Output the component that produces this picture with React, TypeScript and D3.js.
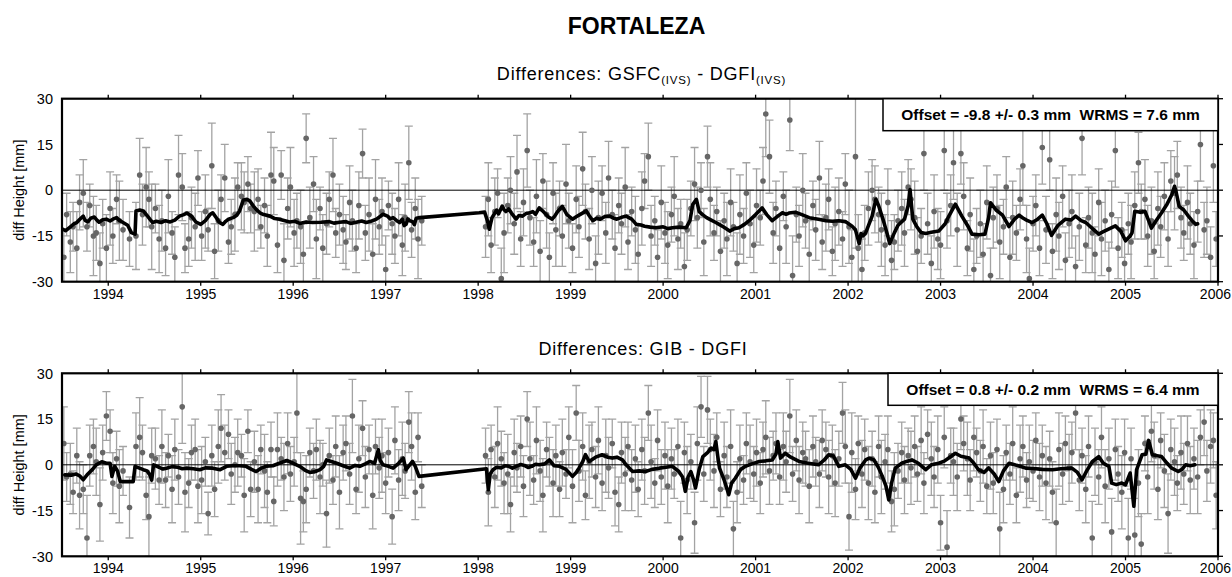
import React from "react";
import * as d3 from "d3";

// ---------- data ----------
const YEARS = [1994, 1995, 1996, 1997, 1998, 1999, 2000, 2001, 2002, 2003, 2004, 2005, 2006];
const Y_TICKS = [30, 15, 0, -15, -30];

const EPOCHS_A = [
  1993.52, 1993.55, 1993.59, 1993.62, 1993.66, 1993.69, 1993.73, 1993.77, 1993.80, 1993.84, 1993.87, 1993.91,
  1993.94, 1993.98, 1994.02, 1994.05, 1994.09, 1994.12, 1994.16, 1994.23, 1994.30, 1994.34, 1994.37, 1994.41,
  1994.44, 1994.47, 1994.51, 1994.55, 1994.58, 1994.62, 1994.65, 1994.69, 1994.72, 1994.76, 1994.80, 1994.83,
  1994.87, 1994.90, 1994.94, 1994.97, 1995.01, 1995.05, 1995.08, 1995.12, 1995.15, 1995.19, 1995.22, 1995.26,
  1995.30, 1995.33, 1995.37, 1995.40, 1995.44, 1995.47, 1995.51, 1995.54, 1995.58, 1995.62, 1995.65, 1995.69,
  1995.72, 1995.76, 1995.79, 1995.83, 1995.87, 1995.90, 1995.94, 1995.97, 1996.01, 1996.04, 1996.08, 1996.11,
  1996.14, 1996.18, 1996.22, 1996.25, 1996.29, 1996.32, 1996.36, 1996.39, 1996.43, 1996.46, 1996.50, 1996.54,
  1996.57, 1996.61, 1996.64, 1996.68, 1996.71, 1996.75, 1996.78, 1996.82, 1996.86, 1996.89, 1996.93, 1996.96,
  1997.00, 1997.03, 1997.07, 1997.10, 1997.14, 1997.18, 1997.21, 1997.25, 1997.28, 1997.32, 1997.35, 1997.39,
];

const EPOCHS_B = [
  1998.08, 1998.11, 1998.14, 1998.18, 1998.21, 1998.25, 1998.28, 1998.32, 1998.35, 1998.39, 1998.42, 1998.46,
  1998.49, 1998.53, 1998.56, 1998.60, 1998.63, 1998.67, 1998.70, 1998.74, 1998.77, 1998.81, 1998.84, 1998.88,
  1998.91, 1998.95, 1998.98, 1999.02, 1999.06, 1999.09, 1999.13, 1999.16, 1999.20, 1999.23, 1999.27, 1999.30,
  1999.34, 1999.38, 1999.41, 1999.45, 1999.48, 1999.52, 1999.55, 1999.59, 1999.62, 1999.66, 1999.70, 1999.73,
  1999.77, 1999.80, 1999.84, 1999.87, 1999.91, 1999.94, 1999.98, 2000.02, 2000.05, 2000.09, 2000.12, 2000.16,
  2000.19, 2000.23, 2000.26, 2000.30, 2000.34, 2000.37, 2000.41, 2000.44, 2000.48, 2000.51, 2000.55, 2000.58,
  2000.62, 2000.66, 2000.69, 2000.73, 2000.76, 2000.80, 2000.83, 2000.87, 2000.90, 2000.94, 2000.98, 2001.01,
  2001.05, 2001.08, 2001.11, 2001.15, 2001.19, 2001.22, 2001.26, 2001.30, 2001.33, 2001.37, 2001.40, 2001.44,
  2001.47, 2001.51, 2001.54, 2001.58, 2001.62, 2001.65, 2001.69, 2001.72, 2001.76, 2001.79, 2001.83, 2001.86,
  2001.90, 2001.94, 2001.97, 2002.01, 2002.04, 2002.08, 2002.11, 2002.15, 2002.18, 2002.22, 2002.26, 2002.29,
  2002.33, 2002.36, 2002.40, 2002.43, 2002.47, 2002.50, 2002.54, 2002.58, 2002.61, 2002.65, 2002.68, 2002.72,
  2002.75, 2002.79, 2002.82, 2002.86, 2002.90, 2002.93, 2002.97, 2003.00, 2003.04, 2003.07, 2003.11, 2003.14,
  2003.18, 2003.22, 2003.25, 2003.29, 2003.32, 2003.36, 2003.39, 2003.43, 2003.46, 2003.50, 2003.54, 2003.57,
  2003.61, 2003.64, 2003.68, 2003.71, 2003.75, 2003.78, 2003.82, 2003.86, 2003.89, 2003.93, 2003.96, 2004.00,
  2004.03, 2004.07, 2004.10, 2004.14, 2004.18, 2004.21, 2004.25, 2004.28, 2004.32, 2004.35, 2004.39, 2004.42,
  2004.46, 2004.50, 2004.53, 2004.57, 2004.60, 2004.64, 2004.67, 2004.71, 2004.74, 2004.78, 2004.82, 2004.85,
  2004.89, 2004.92, 2004.96, 2004.99, 2005.03, 2005.06, 2005.10, 2005.14, 2005.17, 2005.21, 2005.24, 2005.28,
  2005.31, 2005.35, 2005.38, 2005.42, 2005.46, 2005.49, 2005.53, 2005.56, 2005.60, 2005.63, 2005.67, 2005.70,
  2005.74, 2005.78, 2005.81, 2005.85, 2005.88, 2005.92, 2005.95, 2005.98,
];

// GSFC(IVS) - DGFI(IVS) height differences [mm] and formal errors [mm]
const GSFC_DIFF_A = [
  -22, -8, -17, -12, -19, -4, -1, -12, -5, -15, -14, -24,
  -11, -19, -6, -15, -3, -10, -13, -16, -15, 5, -8, 1,
  -3, -12, -6, -16, -10, -19, -2, -14, -22, 5, 1, -19,
  -16, -9, -12, 4, -15, -7, -13, 8, -20, -10, -3, 4,
  -17, -12, -8, 1, -2, -4, 2, -6, -7, -3, -12, -5,
  -15, 5, 3, -18, 5, -23, -6, 1, -14, -10, -12, -21,
  17, -9, 2, -16, -6, -19, -11, -3, 5, -14, -8, -13,
  -17, -4, -10, -19, -5, 12, -14, -8, -21, -3, -12, -7,
  -26, -5, -11, -15, -3, -18, -9, 9, -13, -6, -16, -10,
];
const GSFC_ERR_A = [
  9, 7, 10, 8, 12, 9, 11, 8, 7, 13, 9, 10,
  8, 11, 12, 9, 8, 13, 10, 9, 11, 12, 10, 13,
  9, 14, 8, 11, 10, 9, 12, 7, 10, 13, 11, 8,
  9, 10, 11, 9, 8, 12, 7, 14, 9, 10, 8, 11,
  7, 9, 12, 8, 11, 10, 9, 8, 13, 10, 7, 9,
  10, 14, 11, 9, 8, 12, 10, 13, 11, 9, 12, 10,
  8, 10, 9, 13, 7, 11, 10, 9, 12, 8, 10, 11,
  9, 12, 10, 8, 11, 8, 9, 12, 10, 13, 9, 11,
  11, 8, 10, 9, 12, 10, 11, 12, 9, 10, 13, 8,
];
const GSFC_DIFF_B = [
  -12, -3, -18, -7, -1, -29, -14, -5, 0, -11, 6, -16,
  -4, 13, -9, -17, -2, -20, 3, -8, -22, -1, -13, -6,
  -15, 2, -10, -19, -3, -12, 7, -7, -16, 0, -24, -9,
  -1, -14, 4, -8, -19, -5, -11, 1, -17, -7, -13, -21,
  -6, 3, 11, -15, -10, -22, -4, -14, -18, -8, -2, -16,
  -11, -25, -13, -6, 2, -9, 0, -17, 11, -3, -14, -7,
  -20, -10, -16, -4, -12, -24, -8, -15, -1, -11, -18, -5,
  -9, 3, 25, 11, -14, -6, -19, -2, -12, 23, -28, -8,
  -15, 0, -10, -21, -5, -13, 4, -17, -9, -3, -20, -11,
  -7, -16, 2, -12, -22, 11, -19, -26, -14, -6, 0, -3,
  -8, -13, -18, -4, -23, -17, -10, -6, -14, 1, -3, -9,
  -20, -15, 12, -11, -24, -7, -16, -18, 13, -10, -5, 9,
  -13, 12, -2, -19, -8, -26, -15, -11, -21, -4, -28, -9,
  -6, -17, -12, 1, -22, -9, -14, -3, 8, -16, -29, -11,
  -5, -19, 14, -13, 10, -20, -8, -15, -2, -23, -11, -7,
  -25, -12, 17, -18, -9, -14, -21, -4, -16, -10, -26, -8,
  13, -19, -13, -24, -11, -17, -5, 9, -7, -3, -15, -10,
  -20, -6, -12, -2, -16, 3, -1, 5, -9, -14, -4, -11,
  -18, -7, 15, -13, -10, -22, 8, -16,
];
const GSFC_ERR_B = [
  10, 12, 9, 11, 8, 10, 13, 9, 11, 10, 12, 9,
  11, 12, 9, 8, 12, 10, 9, 11, 8, 10, 12, 9,
  10, 13, 9, 8, 11, 10, 12, 9, 10, 11, 9, 12,
  9, 10, 12, 8, 11, 9, 10, 13, 9, 8, 11, 10,
  12, 9, 11, 10, 8, 9, 12, 10, 11, 9, 13, 10,
  8, 11, 10, 9, 12, 10, 9, 11, 10, 12, 9, 8,
  10, 9, 12, 11, 8, 10, 13, 9, 10, 11, 9, 12,
  9, 11, 14, 12, 10, 9, 11, 8, 12, 10, 13, 9,
  10, 12, 9, 11, 8, 10, 12, 9, 11, 10, 8, 12,
  11, 9, 10, 12, 9, 30, 11, 10, 9, 12, 10, 11,
  9, 12, 10, 11, 13, 9, 10, 12, 11, 9, 10, 12,
  11, 9, 12, 10, 9, 12, 10, 11, 13, 9, 10, 12,
  12, 10, 11, 9, 12, 10, 9, 11, 10, 12, 9, 10,
  11, 12, 9, 10, 11, 12, 9, 10, 13, 11, 10, 9,
  10, 9, 12, 11, 10, 9, 12, 11, 10, 9, 11, 12,
  10, 11, 12, 9, 10, 13, 9, 11, 12, 10, 9, 11,
  12, 10, 9, 11, 10, 12, 11, 10, 9, 13, 10, 11,
  9, 12, 10, 11, 9, 10, 12, 11, 10, 9, 12, 10,
  11, 10, 12, 9, 11, 10, 12, 9,
];

// GIB - DGFI height differences [mm] and formal errors [mm]
const GIB_DIFF_A = [
  7, -4, -3, -9, 3, -10, -8, -24, 3, 6, 1, -13,
  4, 16, 11, -6, 2, -7, -2, -14, 6, 9, 4, -10,
  -17, 3, 2, -5, 6, -5, 3, -8, 5, -4, 19, -9,
  -6, 4, 5, -7, -5, 1, -16, 3, -8, 6, 12, 4,
  10, -3, 0, 4, 3, -10, 11, -8, 1, -8, 5, -2,
  -9, 5, -12, 5, 2, -4, 7, -3, 1, 17, -11, -12,
  -8, 4, -2, 5, -4, 0, -16, 3, -5, 6, -9, 4,
  7, -3, 16, -8, 2, 12, -4, 5, -10, 6, -1, 3,
  -6, 4, -17, 8, -5, 2, -2, 14, 6, -9, 9, -7,
];
const GIB_ERR_A = [
  12, 8, 10, 7, 9, 11, 8, 14, 10, 9, 11, 12,
  9, 8, 7, 10, 9, 12, 8, 10, 11, 13, 9, 8,
  13, 9, 10, 8, 12, 9, 7, 11, 10, 9, 12, 13,
  8, 9, 10, 12, 11, 8, 7, 10, 9, 12, 11, 9,
  8, 10, 9, 11, 7, 12, 7, 9, 10, 11, 8, 12,
  10, 9, 8, 12, 7, 11, 10, 9, 8, 13, 15, 10,
  11, 8, 9, 10, 12, 7, 11, 9, 8, 10, 12, 9,
  9, 10, 12, 8, 11, 9, 10, 8, 11, 9, 10, 12,
  10, 8, 9, 11, 10, 12, 9, 10, 11, 9, 8, 7,
];
const GIB_DIFF_B = [
  3, -9, 5, -4, 7, 2, -6, -3, -13, 4, -1, 6,
  -7, 15, 2, -5, 8, -2, -10, 5, 1, -6, 3, -8,
  4, -3, 9, -7, 17, -2, 6, -10, 1, 5, -4, 8,
  -6, 3, -1, 7, -9, -13, 4, -3, 6, -5, 2, -8,
  5, -2, 17, 1, -6, 8, -4, 3, -7, 2, -3, 6,
  -24, 4, -5, 1, -19, 7, 19, -3, 18, 5, -2, 9,
  -8, 3, -4, 6, -21, -9, 2, -5, 7, 1, -3, 4,
  -6, 5, 9, -2, 3, 7, -4, 6, 1, 16, -3, 8,
  -5, 4, 2, -7, 6, 1, -3, 8, 5, -4, 3, -6,
  2, 17, 6, -17, 4, -8, 7, -3, 5, -6, 2, -9,
  6, -4, 1, 5, -12, -8, -2, 4, -5, 3, -1, 6,
  -3, 8, -6, 10, 2, -4, 5, -19, 9, -27, 3, 1,
  -4, 15, 7, 2, -5, 9, 4, -2, 6, -7, 3, -6,
  5, -21, -8, 4, -3, 7, -10, 2, 6, -5, 1, -2,
  8, -4, 3, -6, 2, -9, -19, 5, -3, 7, -1, 4,
  17, -5, 3, -8, 6, -24, 1, -4, 9, -7, 2, -22,
  5, -3, -9, 4, -24, 2, -23, -6, -26, 7, -4, 11,
  3, -8, 8, -2, -16, 5, 1, -6, 4, -3, 7, -5,
  2, -4, 9, 14, -2, 6, 8, -10,
];
const GIB_ERR_B = [
  9, 11, 8, 10, 12, 9, 10, 13, 9, 11, 8, 10,
  10, 9, 12, 8, 11, 10, 12, 9, 8, 11, 10, 9,
  11, 8, 10, 12, 9, 10, 11, 8, 12, 9, 10, 11,
  9, 12, 10, 8, 11, 9, 10, 12, 8, 10, 11, 9,
  10, 11, 9, 12, 8, 10, 9, 11, 12, 10, 8, 9,
  12, 10, 11, 9, 10, 12, 10, 9, 11, 10, 12, 8,
  9, 11, 10, 12, 9, 10, 11, 8, 10, 12, 9, 11,
  10, 9, 12, 11, 8, 10, 9, 11, 10, 12, 9, 10,
  11, 10, 9, 12, 10, 8, 11, 10, 9, 12, 10, 11,
  9, 10, 12, 11, 13, 10, 9, 11, 10, 12, 9, 10,
  10, 12, 9, 11, 10, 12, 9, 10, 11, 9, 12, 10,
  9, 11, 10, 8, 12, 10, 11, 9, 10, 12, 9, 11,
  11, 10, 9, 12, 10, 11, 8, 10, 12, 9, 11, 10,
  10, 12, 11, 9, 10, 12, 9, 11, 10, 9, 12, 10,
  9, 11, 10, 12, 9, 10, 11, 12, 10, 9, 11, 10,
  12, 10, 9, 11, 10, 12, 11, 9, 10, 12, 10, 11,
  10, 9, 12, 11, 13, 10, 12, 11, 10, 9, 12, 10,
  11, 10, 9, 12, 13, 10, 11, 9, 12, 10, 9, 11,
  10, 12, 9, 11, 10, 12, 9, 11,
];

// smoothed series (black line): [epoch, mm]
const GSFC_SMOOTH: [number, number][] = [
  [1993.51, -12.8], [1993.54, -13.3], [1993.57, -12.5], [1993.6, -11.8], [1993.63, -11], [1993.66, -10.6],
  [1993.69, -9.6], [1993.73, -8.5], [1993.75, -9.9], [1993.78, -10.4], [1993.81, -9.2], [1993.85, -8.8],
  [1993.88, -9.9], [1993.9, -10.5], [1993.94, -9.7], [1993.98, -9.5], [1994.02, -10.1], [1994.05, -9.5],
  [1994.09, -9], [1994.12, -9.9], [1994.16, -10.6], [1994.21, -11.5], [1994.25, -13.9], [1994.29, -14.4],
  [1994.3, -6.8], [1994.34, -6.5], [1994.38, -6.8], [1994.42, -8.3], [1994.45, -9.5], [1994.48, -10.6],
  [1994.52, -10.2], [1994.57, -10.6], [1994.62, -10], [1994.67, -10.4], [1994.72, -9.8], [1994.77, -8.5],
  [1994.81, -8.1], [1994.85, -7.5], [1994.9, -8.5], [1994.95, -10.5], [1995.0, -11.2], [1995.05, -10],
  [1995.1, -8], [1995.13, -7.4], [1995.17, -9.1], [1995.2, -10.5], [1995.24, -11.2], [1995.27, -10.2],
  [1995.3, -9.5], [1995.35, -9], [1995.39, -8.2], [1995.42, -6.8], [1995.46, -3.2], [1995.5, -3],
  [1995.53, -3.5], [1995.57, -5.2], [1995.6, -6.3], [1995.64, -7.4], [1995.68, -8], [1995.75, -8.5],
  [1995.8, -9.3], [1995.85, -9.5], [1995.9, -9.9], [1995.96, -10.4], [1996.02, -10.2], [1996.07, -10.9],
  [1996.14, -10.4], [1996.21, -10.6], [1996.3, -10.5], [1996.39, -10.3], [1996.44, -10.8], [1996.5, -10.5],
  [1996.57, -10.3], [1996.62, -10.9], [1996.68, -10.5], [1996.74, -10.1], [1996.79, -10.6], [1996.85, -10.1],
  [1996.9, -9.5], [1996.94, -8.6], [1996.97, -7.9], [1997.02, -8.5], [1997.05, -9.4], [1997.08, -9],
  [1997.12, -10], [1997.15, -10.6], [1997.18, -9.5], [1997.2, -11.6], [1997.22, -11.2], [1997.24, -9.4],
  [1997.26, -10], [1997.29, -10.3], [1997.31, -11.3], [1997.33, -9.2], [1997.37, -9], [1998.01, -7.4],
  [1998.07, -7.2], [1998.1, -10], [1998.12, -12.8], [1998.15, -9], [1998.2, -6.5], [1998.22, -7.8],
  [1998.26, -5.2], [1998.28, -6.4], [1998.3, -7], [1998.33, -6.1], [1998.36, -7.5], [1998.41, -9.5],
  [1998.44, -8.3], [1998.48, -8.5], [1998.52, -7.6], [1998.55, -7.5], [1998.59, -7], [1998.62, -7.9],
  [1998.66, -5.8], [1998.69, -6.6], [1998.72, -7.5], [1998.76, -8.8], [1998.8, -9.5], [1998.83, -8.4],
  [1998.86, -7], [1998.91, -5.3], [1998.96, -8], [1999.02, -9.5], [1999.06, -8.7], [1999.1, -8],
  [1999.17, -6.8], [1999.2, -8.3], [1999.24, -10], [1999.28, -9.2], [1999.32, -9.5], [1999.37, -8.6],
  [1999.42, -8.5], [1999.46, -9.1], [1999.5, -9.5], [1999.55, -8.9], [1999.6, -8.5], [1999.66, -9.5],
  [1999.71, -11.2], [1999.76, -11.4], [1999.8, -11.8], [1999.86, -12.1], [1999.92, -12.3], [2000.0, -12],
  [2000.05, -12.6], [2000.1, -12.3], [2000.17, -12.1], [2000.25, -12.3], [2000.29, -10], [2000.32, -4.7],
  [2000.36, -3], [2000.39, -7], [2000.43, -8.1], [2000.47, -9], [2000.52, -9.8], [2000.57, -10.6],
  [2000.61, -11.3], [2000.65, -12], [2000.72, -13.4], [2000.77, -12.6], [2000.82, -12.3], [2000.88, -11.2],
  [2000.93, -10], [2001.0, -8], [2001.07, -5.8], [2001.12, -8], [2001.18, -10], [2001.24, -8.5],
  [2001.29, -7.4], [2001.33, -7.9], [2001.36, -7.5], [2001.43, -7.2], [2001.5, -8], [2001.58, -9],
  [2001.63, -9.3], [2001.68, -9.5], [2001.76, -10], [2001.83, -10.2], [2001.9, -10], [2001.97, -10.3],
  [2002.04, -11.7], [2002.08, -13], [2002.12, -17.5], [2002.14, -14.2], [2002.16, -15], [2002.19, -14],
  [2002.26, -8.5], [2002.3, -3], [2002.33, -5], [2002.38, -9.8], [2002.42, -14], [2002.45, -17.5],
  [2002.5, -14], [2002.54, -11.5], [2002.61, -9.5], [2002.65, -5], [2002.67, 0.2], [2002.7, -9.5],
  [2002.74, -11.8], [2002.79, -13.9], [2002.84, -14.2], [2002.9, -13.8], [2002.98, -13.4], [2003.05, -11],
  [2003.09, -8.5], [2003.16, -4.6], [2003.23, -8.5], [2003.3, -12], [2003.34, -14.4], [2003.42, -14.6],
  [2003.48, -14.4], [2003.52, -9], [2003.54, -4.1], [2003.6, -6.5], [2003.67, -8.2], [2003.74, -11.9],
  [2003.8, -9.5], [2003.85, -8.2], [2003.89, -9.1], [2003.93, -9.8], [2003.99, -10.6], [2004.05, -9.5],
  [2004.1, -8.2], [2004.15, -11], [2004.2, -14.8], [2004.27, -11.5], [2004.35, -9.5], [2004.41, -9.8],
  [2004.46, -8.5], [2004.52, -10], [2004.57, -10.6], [2004.64, -12.5], [2004.71, -14.4], [2004.76, -13.6],
  [2004.8, -13], [2004.89, -11.7], [2004.95, -13.5], [2005.0, -16.6], [2005.05, -15], [2005.07, -14],
  [2005.1, -6.9], [2005.16, -7.2], [2005.21, -6.9], [2005.25, -10], [2005.28, -12.4], [2005.33, -10],
  [2005.39, -7.4], [2005.45, -4.5], [2005.5, -1.5], [2005.53, 1.3], [2005.55, -1], [2005.58, -5.3],
  [2005.63, -6.5], [2005.68, -8.5], [2005.72, -10], [2005.76, -11.2], [2005.78, -11],
];

const GIB_SMOOTH: [number, number][] = [
  [1993.53, -3.3], [1993.6, -3.4], [1993.65, -3.0], [1993.69, -3.6], [1993.73, -4.9], [1993.78, -3],
  [1993.83, -1.5], [1993.87, 0], [1993.93, 1], [1993.98, 0.5], [1994.02, 0.5], [1994.04, -3.8],
  [1994.07, -0.5], [1994.1, -2], [1994.13, -5.5], [1994.2, -5.5], [1994.27, -5.5], [1994.29, -0.5],
  [1994.33, -1], [1994.38, -1.6], [1994.42, -2], [1994.45, -3.3], [1994.47, -5], [1994.49, 0],
  [1994.55, -0.8], [1994.59, -1.4], [1994.63, -1.1], [1994.69, -0.6], [1994.75, -0.8], [1994.8, -1.3],
  [1994.85, -1.1], [1994.92, -1.3], [1994.99, -1.6], [1995.05, -1], [1995.13, -1.1], [1995.21, -1.6],
  [1995.28, -0.5], [1995.35, -0.3], [1995.42, -0.3], [1995.49, -0.5], [1995.55, -1.5], [1995.6, -2.2],
  [1995.66, -1], [1995.71, -0.5], [1995.78, -0.3], [1995.85, 0.5], [1995.93, 1.4], [1996.0, 0.5],
  [1996.07, -0.5], [1996.13, -1.8], [1996.18, -2.5], [1996.24, -2.2], [1996.29, -1.6], [1996.33, -0.5],
  [1996.36, 1.6], [1996.42, 1], [1996.47, 0.5], [1996.54, -0.3], [1996.61, -1.1], [1996.67, -0.2],
  [1996.72, -0.5], [1996.78, 0.3], [1996.83, 1.1], [1996.88, 0.5], [1996.92, 4.9], [1996.94, 1.5],
  [1996.97, 0], [1997.03, -0.5], [1997.08, -1.1], [1997.14, 0.5], [1997.19, 2.2], [1997.22, -1.6],
  [1997.26, 0], [1997.29, 1.1], [1997.32, -0.5], [1997.36, -3.8], [1998.09, -1.3], [1998.11, -8.2],
  [1998.13, -3], [1998.16, -1.6], [1998.2, -0.8], [1998.25, -1], [1998.29, -0.3], [1998.33, -0.5],
  [1998.37, -1.1], [1998.41, -0.5], [1998.46, 0.1], [1998.5, -0.2], [1998.54, -0.9], [1998.58, -0.5],
  [1998.62, 0.2], [1998.66, 0], [1998.72, 0.3], [1998.77, 1.6], [1998.82, -0.3], [1998.88, -0.5],
  [1998.95, -1.5], [1999.02, -3.8], [1999.06, -2.5], [1999.09, -1.1], [1999.13, 1], [1999.16, 3.3],
  [1999.2, 1.1], [1999.27, 2.5], [1999.34, 3.3], [1999.4, 2.5], [1999.45, 2.2], [1999.5, 2.5],
  [1999.56, 1.6], [1999.6, 0], [1999.67, -2.2], [1999.74, -2], [1999.81, -2.2], [1999.88, -1.5],
  [1999.96, -1.1], [2000.03, -0.8], [2000.1, -0.5], [2000.17, -2.2], [2000.21, -4], [2000.24, -8.7],
  [2000.27, -4], [2000.3, -2.2], [2000.33, -5], [2000.35, -7.6], [2000.39, -1.5], [2000.43, 2.7],
  [2000.48, 4], [2000.52, 5.5], [2000.55, 5], [2000.57, 7.6], [2000.59, 3], [2000.61, -1.1],
  [2000.66, -5], [2000.71, -9.8], [2000.74, -6], [2000.78, -4.4], [2000.84, -1.5], [2000.89, -0.5],
  [2000.96, 0.3], [2001.04, 1.1], [2001.11, 1.3], [2001.18, 1.6], [2001.22, 3.5], [2001.24, 7.6],
  [2001.27, 2.2], [2001.32, 3.8], [2001.38, 2.5], [2001.47, 1.1], [2001.57, 0.5], [2001.68, 0],
  [2001.74, 1.5], [2001.79, 3.3], [2001.84, 2.9], [2001.9, -0.5], [2001.97, 0], [2002.03, -1.5],
  [2002.08, -4.4], [2002.13, -1], [2002.19, 1.6], [2002.23, 2.2], [2002.28, 1.6], [2002.33, -1],
  [2002.37, -3.8], [2002.41, -7], [2002.44, -11.5], [2002.47, -6], [2002.51, -1.1], [2002.58, 0.5],
  [2002.64, 1.2], [2002.69, 1.6], [2002.76, 0.5], [2002.84, -1.6], [2002.9, 0], [2002.98, 0.5],
  [2003.04, 1.2], [2003.1, 2.5], [2003.16, 3.8], [2003.22, 2.8], [2003.31, 2.2], [2003.36, 0.5],
  [2003.41, -1.6], [2003.47, -2.5], [2003.52, -1], [2003.58, -3], [2003.63, -5.5], [2003.68, -2],
  [2003.74, 0.5], [2003.8, 0], [2003.86, -0.5], [2003.92, -1.1], [2004.0, -1.2], [2004.1, -1.5],
  [2004.21, -1.6], [2004.3, -1.3], [2004.42, -1.1], [2004.48, -2.5], [2004.53, -4.9], [2004.58, -2],
  [2004.64, 1], [2004.71, 2.7], [2004.76, 0.5], [2004.82, -0.5], [2004.85, -6], [2004.9, -6.5],
  [2004.96, -6], [2005.0, -6.6], [2005.05, -2.7], [2005.09, -13.6], [2005.12, -1.6], [2005.18, 3.3],
  [2005.22, 3.5], [2005.25, 8], [2005.29, 3.3], [2005.34, 3], [2005.39, 2.7], [2005.45, 0.5],
  [2005.5, -1.1], [2005.57, -2.2], [2005.61, -1.5], [2005.65, 0], [2005.7, -0.3], [2005.75, 0],
];

const EPOCHS = [...EPOCHS_A, ...EPOCHS_B];
const GSFC_DIFF = [...GSFC_DIFF_A, ...GSFC_DIFF_B];
const GSFC_ERR = [...GSFC_ERR_A, ...GSFC_ERR_B];
const GIB_DIFF = [...GIB_DIFF_A, ...GIB_DIFF_B];
const GIB_ERR = [...GIB_ERR_A, ...GIB_ERR_B];

// ---------- drawing ----------
const FONT = "'Liberation Sans', Arial, Helvetica, sans-serif";
const X_LEFT = 62;
const X_RIGHT = 1218;
const PLOT_H = 183;

type PanelProps = {
  id: string;
  top: number;
  values: number[];
  errors: number[];
  smooth: [number, number][];
  legend: string;
  legendX0: number;
  subtitle: React.ReactNode;
};

function Panel({ id, top, values, errors, smooth, legend, legendX0, subtitle }: PanelProps) {
  const x = d3.scaleLinear().domain([1993.5, 2006]).range([X_LEFT, X_RIGHT]);
  const y = d3.scaleLinear().domain([-30, 30]).range([top + PLOT_H, top]);
  const pts = EPOCHS.map((t, i) => ({ t, v: values[i], e: errors[i] })).filter(
    (d) => d.v !== undefined && d.e !== undefined
  );
  const line = d3
    .line<[number, number]>()
    .x((d) => x(d[0]))
    .y((d) => y(d[1]));
  const bottom = top + PLOT_H;
  const legendH = 32;
  return (
    <g>
      <defs>
        <clipPath id={id}>
          <rect x={X_LEFT} y={top} width={X_RIGHT - X_LEFT} height={PLOT_H} />
        </clipPath>
      </defs>
      {subtitle}
      <g clipPath={`url(#${id})`}>
        <g stroke="#a3a3a3" strokeWidth={1.3} fill="none">
          {pts.map((d, i) => (
            <g key={i}>
              <line x1={x(d.t)} x2={x(d.t)} y1={y(d.v - d.e)} y2={y(d.v + d.e)} />
              <line x1={x(d.t) - 4} x2={x(d.t) + 4} y1={y(d.v - d.e)} y2={y(d.v - d.e)} />
              <line x1={x(d.t) - 4} x2={x(d.t) + 4} y1={y(d.v + d.e)} y2={y(d.v + d.e)} />
            </g>
          ))}
        </g>
        <line x1={X_LEFT} x2={X_RIGHT} y1={y(0)} y2={y(0)} stroke="#000" strokeWidth={1} />
        <g fill="#666">
          {pts.map((d, i) => (
            <circle key={i} cx={x(d.t)} cy={y(d.v)} r={2.8} />
          ))}
        </g>
        <path
          d={line(smooth) || ""}
          fill="none"
          stroke="#000"
          strokeWidth={3.6}
          strokeLinejoin="round"
          strokeLinecap="round"
        />
      </g>
      {/* frame */}
      <rect
        x={X_LEFT}
        y={top}
        width={X_RIGHT - X_LEFT}
        height={PLOT_H}
        fill="none"
        stroke="#000"
        strokeWidth={2.2}
      />
      {/* x ticks top & bottom */}
      {YEARS.map((yr) => {
        const last = yr === YEARS[YEARS.length - 1];
        return (
          <g key={yr}>
            <line x1={x(yr)} x2={x(yr)} y1={top} y2={top - 4} stroke="#000" strokeWidth={1.3} />
            <line x1={x(yr)} x2={x(yr)} y1={bottom} y2={bottom + 4} stroke="#000" strokeWidth={1.3} />
            <text
              x={last ? 1231 : x(yr)}
              y={bottom + 17}
              textAnchor={last ? "end" : "middle"}
              fontFamily={FONT}
              fontSize={14}
              fill="#000"
            >
              {yr}
            </text>
          </g>
        );
      })}
      {/* y ticks */}
      {Y_TICKS.map((v) => (
        <g key={v}>
          <line x1={X_RIGHT} x2={X_RIGHT + 5} y1={y(v)} y2={y(v)} stroke="#000" strokeWidth={1.3} />
          <text
            x={53}
            y={y(v)}
            dy="0.36em"
            textAnchor="end"
            fontFamily={FONT}
            fontSize={14.5}
            fill="#000"
          >
            {v}
          </text>
        </g>
      ))}
      <text
        transform={`translate(19,${top + PLOT_H / 2}) rotate(-90)`}
        textAnchor="middle"
        dy="0.35em"
        fontFamily={FONT}
        fontSize={14.5}
        fill="#000"
      >
        diff Height [mm]
      </text>
      {/* legend */}
      <rect
        x={legendX0}
        y={top}
        width={X_RIGHT - legendX0}
        height={legendH}
        fill="#fff"
        stroke="#000"
        strokeWidth={1.5}
      />
      <text
        x={(legendX0 + X_RIGHT) / 2}
        y={top + legendH / 2}
        dy="0.36em"
        textAnchor="middle"
        fontFamily={FONT}
        fontWeight="bold"
        fontSize={15.5}
        fill="#000"
        style={{ whiteSpace: "pre" }}
      >
        {legend}
      </text>
    </g>
  );
}

export default function App() {
  const subStyle = { whiteSpace: "pre" as const };
  return (
    <div style={{ position: "absolute", left: 0, top: 0 }}>
      <svg width={1232} height={577} style={{ display: "block", background: "#fff" }}>
        <rect x={0} y={0} width={1232} height={577} fill="#fff" />
        <text
          x={636.5}
          y={34}
          textAnchor="middle"
          fontFamily={FONT}
          fontWeight="bold"
          fontSize={23}
          fill="#000"
        >
          FORTALEZA
        </text>
        <Panel
          id="clipTop"
          top={98.7}
          values={GSFC_DIFF}
          errors={GSFC_ERR}
          smooth={GSFC_SMOOTH}
          legend="Offset = -9.8 +/- 0.3 mm  WRMS = 7.6 mm"
          legendX0={883}
          subtitle={
            <text
              x={641.5}
              y={80}
              textAnchor="middle"
              fontFamily={FONT}
              fontSize={18}
              letterSpacing={0.8}
              fill="#000"
              style={subStyle}
            >
              <tspan>Differences: GSFC</tspan>
              <tspan fontSize={11.5} dy={4}>(IVS)</tspan>
              <tspan dy={-4}> - DGFI</tspan>
              <tspan fontSize={11.5} dy={4}>(IVS)</tspan>
            </text>
          }
        />
        <Panel
          id="clipBottom"
          top={373.3}
          values={GIB_DIFF}
          errors={GIB_ERR}
          smooth={GIB_SMOOTH}
          legend="Offset = 0.8 +/- 0.2 mm  WRMS = 6.4 mm"
          legendX0={888}
          subtitle={
            <text
              x={643}
              y={354.5}
              textAnchor="middle"
              fontFamily={FONT}
              fontSize={18}
              letterSpacing={0.8}
              fill="#000"
              style={subStyle}
            >
              Differences: GIB - DGFI
            </text>
          }
        />
      </svg>
    </div>
  );
}
